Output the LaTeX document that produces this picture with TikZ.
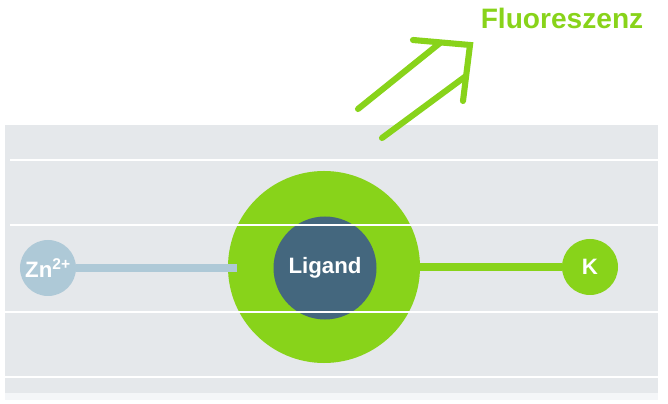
\documentclass[tikz,border=0pt]{standalone}
\usepackage{fontspec}
\setmainfont{Liberation Sans}
\definecolor{lgreen}{RGB}{136,211,26}
\definecolor{ligblue}{RGB}{68,103,126}
\definecolor{znblue}{RGB}{174,201,215}
\definecolor{bandgray}{RGB}{229,232,235}
\definecolor{lightgray}{RGB}{244,246,248}
\tikzset{
  atom/.style={circle, inner sep=0pt, text=white, font=\bfseries\fontsize{19}{19}\selectfont},
  bond/.style={line width=6pt},
  grid line/.style={white, line width=1.7pt},
  glow/.style={lgreen, line width=5.2pt, line cap=round}
}
\begin{document}
\begin{tikzpicture}[x=0.03cm, y=-0.03cm]
\useasboundingbox (0,0) rectangle (668,404);
\fill[lightgray] (5,393) rectangle (658,400);
\fill[bandgray] (5,125) rectangle (658,393);

\node[atom, fill=lgreen, minimum size=5.76cm] (ring) at (324,267) {};
\node[atom, fill=ligblue, minimum size=3.09cm] (lig) at (325,268) {};
\node[atom, fill=znblue, minimum size=1.68cm] (zn) at (48,268) {};
\node[atom, fill=lgreen, minimum size=1.68cm] (k) at (590,267) {};
\coordinate (znend) at (237,268);

\draw[bond, znblue] (zn) -- (znend);
\draw[bond, lgreen] (k) -- (ring);

\draw[grid line] (10,160) -- (658,160);
\draw[grid line] (10,225) -- (658,225);
\draw[grid line] (5,312) -- (658,312);
\draw[grid line] (5,377) -- (658,377);

\node[atom] at (lig) {Ligand};
\node[atom] at (zn) {Zn\textsuperscript{2+}};
\node[atom] at (k) {K};

\draw[glow] (413,40) -- (470,45) -- (463,101);
\draw[glow] (358,109) -- (440,43);
\draw[glow] (382,138) -- (466,76);
\node[text=lgreen, font=\bfseries\fontsize{24}{24}\selectfont] (fl) at (562,18) {Fluoreszenz};
\end{tikzpicture}
\end{document}
